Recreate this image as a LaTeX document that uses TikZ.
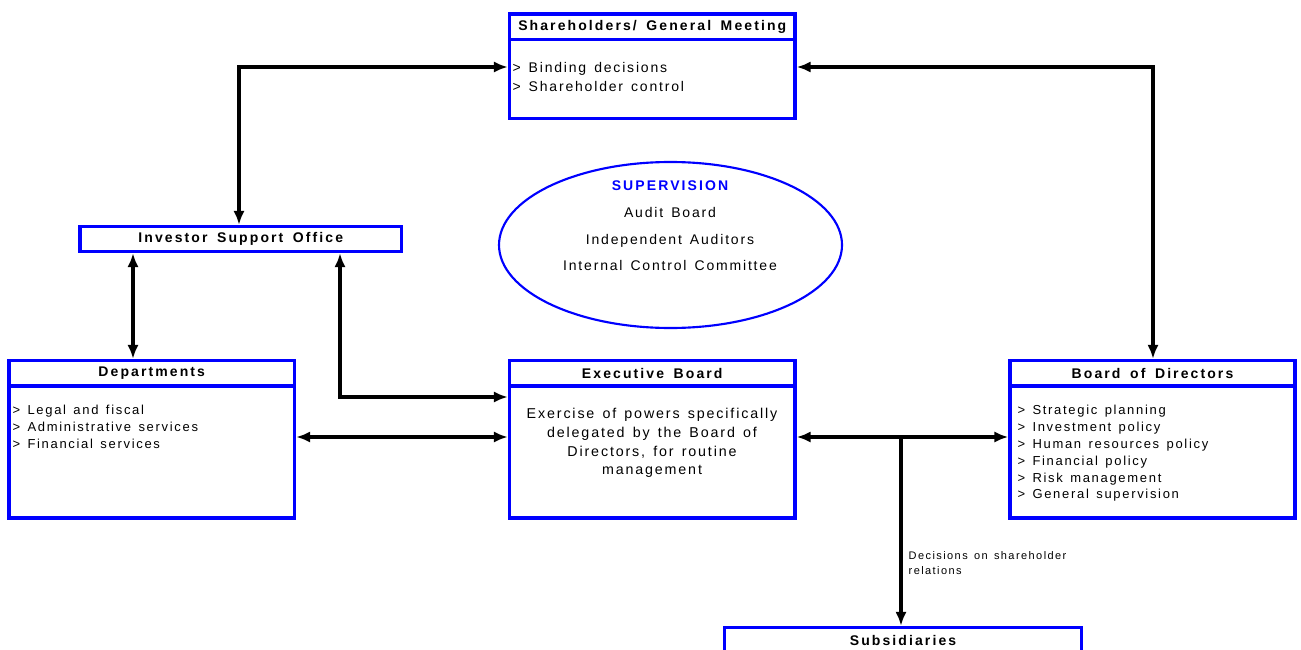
\documentclass[tikz,border=0pt]{standalone}
\usepackage{fontspec}
\setmainfont{Liberation Sans}[LetterSpace=13,WordSpace=1.4]
\newfontfamily\headfont{Liberation Sans}[LetterSpace=15,WordSpace=1.6]
\usetikzlibrary{positioning,arrows.meta,shapes.geometric}

\newcommand{\pxu}{0.75pt}

\tikzset{every picture/.style={line width=0.75pt}}
\tikzset{
  headbox/.style={draw=blue, line width=2.6pt, outer sep=0pt, inner sep=0pt,
    minimum height=25.5*\pxu, text=black,
    font=\headfont\bfseries\fontsize{10.5}{12}\selectfont},
  bodybox/.style={draw=blue, line width=2.6pt, outer sep=0pt, inner sep=0pt},
  itemtext/.style={anchor=north west, inner sep=0pt, align=left, text=black,
    font=\fontsize{9.75}{12.6}\selectfont},
  link/.style={line width=2.5pt, <->, shorten <=1.3pt, shorten >=1.3pt},
  >={Latex[length=10.5pt,width=8.5pt]},
}

\begin{document}
\begin{tikzpicture}[x=0.75pt,y=0.75pt,yscale=-1,xscale=1]
\useasboundingbox (0,0) rectangle (1301,649);
\clip (0,0) rectangle (1301,649);

%Shape: Rectangle -- shareholders
\node[headbox, minimum width=285.5*\pxu, anchor=north west] (shT) at (509.5,14) {Shareholders/ General Meeting};
\node[bodybox, minimum width=285.5*\pxu, minimum height=79*\pxu, below=0pt of shT] (shB) {};
%Shape: Rectangle -- investor support office
\node[headbox, minimum width=321.5*\pxu, minimum height=25*\pxu, anchor=north west] (iso) at (80,226.5) {Investor Support Office};
%Shape: Rectangle -- departments
\node[headbox, minimum width=285.5*\pxu, anchor=north west] (dpT) at (9,360.5) {Departments};
\node[bodybox, minimum width=285.5*\pxu, minimum height=132*\pxu, below=0pt of dpT] (dpB) {};
%Shape: Rectangle -- executive board
\node[headbox, minimum width=285.5*\pxu, anchor=north west] (exT) at (509.5,360.5) {Executive Board};
\node[bodybox, minimum width=285.5*\pxu, minimum height=132*\pxu, below=0pt of exT] (exB) {};
%Shape: Rectangle -- board of directors
\node[headbox, minimum width=285*\pxu, anchor=north west] (bdT) at (1010,360.5) {Board of Directors};
\node[bodybox, minimum width=285*\pxu, minimum height=132*\pxu, below=0pt of bdT] (bdB) {};
%Shape: Rectangle -- subsidiaries
\node[headbox, minimum width=357*\pxu, anchor=north west] (sub) at (724.5,627.5) {Subsidiaries};
%Shape: Ellipse
\node[ellipse, draw=blue, line width=1.6pt, inner sep=0pt, minimum width=343*\pxu, minimum height=166*\pxu] (sup) at (670.5,245) {};

% Text Node
\node[itemtext, font=\fontsize{10.5}{14.25}\selectfont] (shL) at (512,62) {> Binding decisions\\> Shareholder control};
% Text Node
\node[itemtext] (dpL) at (12,405) {> Legal and fiscal\\> Administrative services\\> Financial services};
% Text Node
\node[itemtext] (bdL) at (1017,405) {> Strategic planning\\> Investment policy\\> Human resources policy\\> Financial policy\\> Risk management\\> General supervision};
% Text Node
\node[itemtext, anchor=north, align=center, font=\fontsize{10.7}{14}\selectfont] (exL) at (652,408) {Exercise of powers specifically\\delegated by the Board of\\Directors, for routine\\management};
% Text Node
\node[inner sep=0pt, align=center, text=black, font=\fontsize{10.5}{20}\selectfont] (supL) at (670,226) {{\headfont\bfseries\color{blue}SUPERVISION}\\Audit Board\\Independent Auditors\\Internal Control Committee};

% corners of the connectors
\coordinate (tlc) at (239,67);
\coordinate (trc) at (1153,67);
\coordinate (dpc) at (133,300);
\coordinate (ebc) at (340,397);
\coordinate (fork) at (901,437);

%Straight Lines
\draw[link] (iso.north -| tlc) -- (tlc) -- (shB.west |- tlc);
\draw[link] (shB.east |- trc) -- (trc) -- (bdT.north -| trc);
\draw[link] (iso.south -| dpc) -- (dpT.north -| dpc);
\draw[link] (iso.south -| ebc) -- (ebc) -- (exB.west |- ebc);
\draw[link] (dpB.east |- fork) -- (exB.west |- fork);
\draw[link] (exB.east |- fork) -- (bdB.west |- fork);
\draw[link, ->] (fork) -- (sub.north -| fork)
  node[pos=0.664, anchor=west, xshift=4.5pt, inner sep=0pt, align=left, text=black, font=\fontsize{8.25}{11.25}\selectfont] {Decisions on shareholder\\relations};

\end{tikzpicture}
\end{document}
